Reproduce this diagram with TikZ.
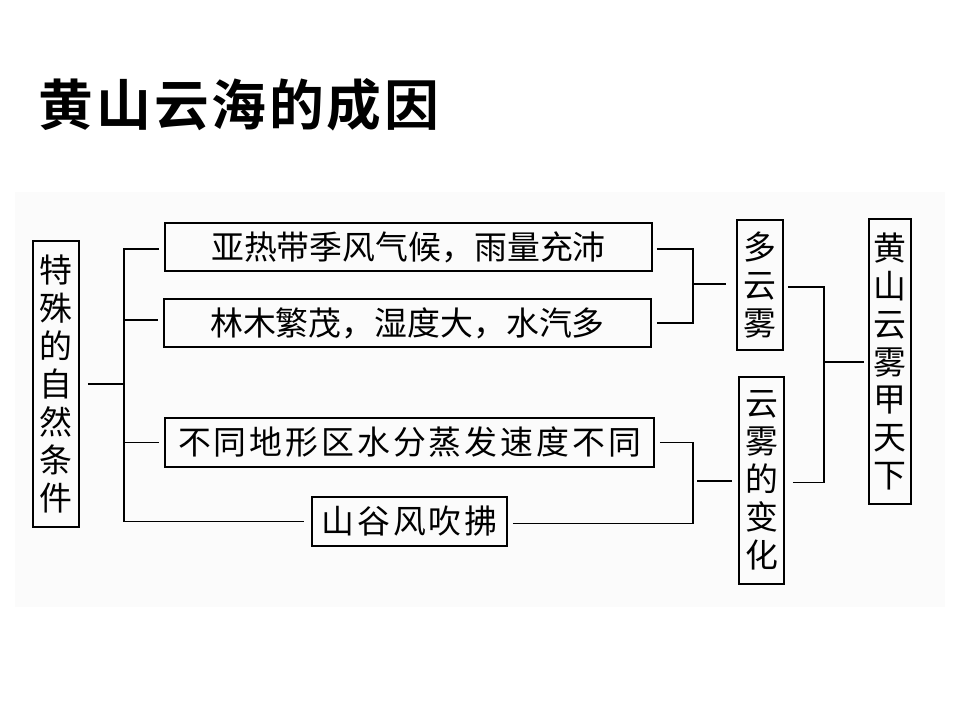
\documentclass[tikz,border=0pt]{standalone}
\usepackage{fontspec}
\setmainfont{Noto Sans CJK SC}
\newfontfamily\cjk{Noto Sans CJK SC}
\newfontfamily\cjkwide[LetterSpace=9]{Noto Sans CJK SC}
\newfontfamily\cjktitle[LetterSpace=5]{Noto Sans CJK SC Bold}
\begin{document}
\begin{tikzpicture}[x=1bp,y=-1bp,
  conn/.style={line width=1.8bp},
  hbox/.style={draw,line width=1.8bp,inner sep=0pt,font=\cjk\fontsize{33}{38}\selectfont},
  vbox/.style={draw,line width=1.8bp,inner sep=0pt,align=center,font=\cjk\fontsize{33}{38}\selectfont}]
\useasboundingbox (0,0) rectangle (960,720);
\fill[black!1.5] (15,192) rectangle (945,607);
\node[font=\cjktitle\fontsize{55}{60}\selectfont] (title) at (239,105) {黄山云海的成因};
% left box
\node[vbox,minimum width=46bp,minimum height=286bp] (L) at (56,384) {特\\殊\\的\\自\\然\\条\\件};
% middle boxes
\node[hbox,minimum width=487bp,minimum height=48bp] (B1) at (408.5,247) {亚热带季风气候，雨量充沛};
\node[hbox,minimum width=487bp,minimum height=48bp] (B2) at (407.5,323) {林木繁茂，湿度大，水汽多};
\node[hbox,minimum width=489bp,minimum height=49bp,font=\cjkwide\fontsize{33}{38}\selectfont] (B3) at (409.5,442.5) {不同地形区水分蒸发速度不同};
\node[hbox,minimum width=195bp,minimum height=49bp,font=\cjkwide\fontsize{33}{38}\selectfont] (B4) at (409.5,521.5) {山谷风吹拂};
% right boxes
\node[vbox,minimum width=46bp,minimum height=130bp] (D) at (760,285) {多\\云\\雾};
\node[vbox,minimum width=45bp,minimum height=207bp] (C) at (761.5,480.5) {云\\雾\\的\\变\\化};
\node[vbox,minimum width=42bp,minimum height=285bp] (H) at (890,361.5) {黄\\山\\云\\雾\\甲\\天\\下};
% junctions
\coordinate (j1) at (124,384);
\coordinate (j2) at (693,284);
\coordinate (j3) at (693,481);
\coordinate (j4) at (824,362);
% left connectors
\draw[conn] ([xshift=8bp]L.east) -- (j1);
\draw[conn] (j1) |- ([xshift=-5bp,yshift=-2bp]B1.west);
\draw[conn] (j1) |- ([xshift=-5bp,yshift=3bp]B2.west);
\draw[conn] (j1) |- ([xshift=-5bp]B3.west);
\draw[conn] (j1) |- ([xshift=-7bp]B4.west);
% upper right
\draw[conn] ([xshift=4bp,yshift=-2bp]B1.east) -| (j2);
\draw[conn] ([xshift=5bp]B2.east) -| (j2);
\draw[conn] (j2) -- ([xshift=-10bp]j2 -| D.west);
% lower right
\draw[conn] ([xshift=5bp]B3.east) -| (j3);
\draw[conn] ([xshift=5bp,yshift=-2bp]B4.east) -| (j3);
\draw[conn] ([xshift=4bp]j3) -- ([xshift=-6bp]j3 -| C.west);
% far right
\draw[conn] ([xshift=4bp,yshift=-2bp]D.east) -| (j4);
\draw[conn] ([xshift=8bp,yshift=-2bp]C.east) -| (j4);
\draw[conn] (j4) -- ([xshift=-4bp]j4 -| H.west);
\end{tikzpicture}
\end{document}
